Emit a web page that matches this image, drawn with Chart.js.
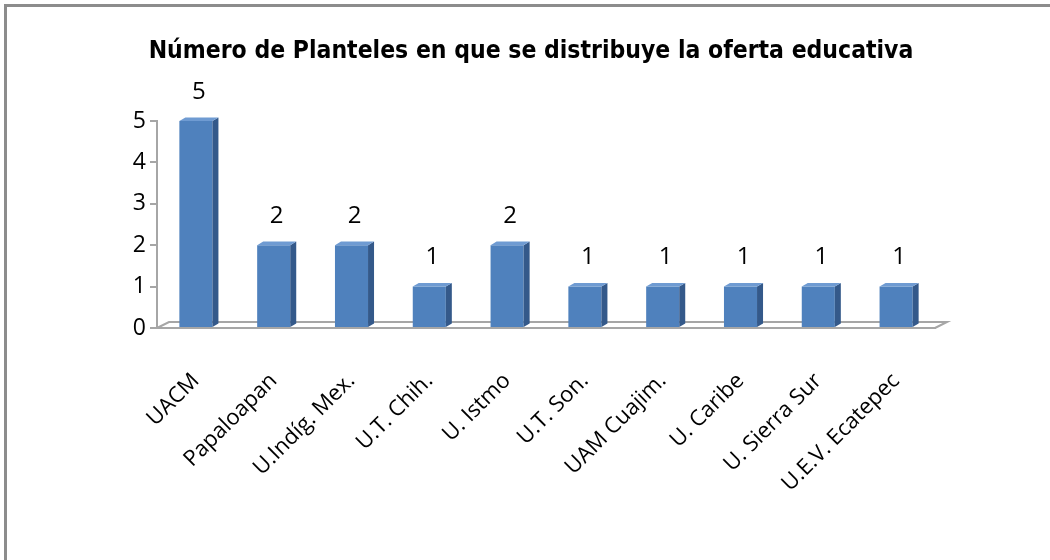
<!DOCTYPE html>
<html>
<head>
<meta charset="utf-8">
<script src="https://cdn.jsdelivr.net/npm/chart.js@4.4.0/dist/chart.umd.min.js"></script>
<style>
    html, body { margin: 0; padding: 0; background: #fff; }
    #marco { position: absolute; left: 0; top: 0; width: 1050px; height: 560px; }
    #borde { position: absolute; left: 4px; top: 4px; width: 1060px; height: 570px; border-left: 3px solid #8c8c8c; border-top: 3px solid #8c8c8c; }
</style>
</head>
<body>
<div id="marco">
    <div id="borde"></div>
    <canvas id="barras3d" width="1050" height="560"></canvas>
</div>
<script>
// Datos del gráfico
const titulo = 'Número de Planteles en que se distribuye la oferta educativa';
const universidades = ['UACM', 'Papaloapan', 'U.Indíg. Mex.', 'U.T. Chih.', 'U. Istmo', 'U.T. Son.', 'UAM Cuajim.', 'U. Caribe', 'U. Sierra Sur', 'U.E.V. Ecatepec'];
const planteles = [5, 2, 2, 1, 2, 1, 1, 1, 1, 1];
const marcasY = [0, 1, 2, 3, 4, 5];

const fuente = "'Liberation Sans Narrow', 'DejaVu Sans Condensed', sans-serif";
const fuenteTexto = "'Open Sans', 'Noto Sans', sans-serif";

document.addEventListener('DOMContentLoaded', () => {
    const prof = 6; // profundidad del efecto 3D

    // Plugin para el título, caras laterales, piso y etiquetas de valores
    const efecto3d = {
        id: 'efecto3d',
        beforeDatasetsDraw(chart) {
            const ctx = chart.ctx;
            const area = chart.chartArea;
            ctx.save();
            // título
            ctx.fillStyle = '#000';
            ctx.font = 'bold 24.5px ' + fuente;
            ctx.textAlign = 'center';
            ctx.textBaseline = 'middle';
            ctx.fillText(titulo, 531, 52);
            // piso
            ctx.strokeStyle = '#a6a6a6';
            ctx.lineWidth = 2;
            ctx.beginPath();
            ctx.moveTo(area.left, area.bottom);
            ctx.lineTo(area.left + prof * 2, area.bottom - prof);
            ctx.lineTo(area.right + prof * 2, area.bottom - prof);
            ctx.lineTo(area.right, area.bottom);
            ctx.stroke();
            ctx.restore();
        },
        afterDatasetsDraw(chart) {
            const ctx = chart.ctx;
            const meta = chart.getDatasetMeta(0);
            ctx.save();
            meta.data.forEach((bar, i) => {
                const izq = bar.x - bar.width / 2;
                const der = bar.x + bar.width / 2;
                // cara lateral
                ctx.fillStyle = '#34598a';
                ctx.beginPath();
                ctx.moveTo(der, bar.y);
                ctx.lineTo(der + prof, bar.y - prof * 0.6);
                ctx.lineTo(der + prof, bar.base - prof * 0.6);
                ctx.lineTo(der, bar.base);
                ctx.closePath();
                ctx.fill();
                // cara superior
                ctx.fillStyle = '#6f9bd2';
                ctx.beginPath();
                ctx.moveTo(izq, bar.y);
                ctx.lineTo(izq + prof, bar.y - prof * 0.6);
                ctx.lineTo(der + prof, bar.y - prof * 0.6);
                ctx.lineTo(der, bar.y);
                ctx.closePath();
                ctx.fill();
                // valor
                ctx.fillStyle = '#000';
                ctx.font = '24px ' + fuenteTexto;
                ctx.textAlign = 'center';
                ctx.textBaseline = 'bottom';
                ctx.fillText(planteles[i], bar.x + 3, bar.y - 17);
            });
            ctx.restore();
        }
    };

    new Chart(document.getElementById('barras3d'), {
        type: 'bar',
        data: {
            labels: universidades,
            datasets: [{
                label: 'Planteles',
                data: planteles,
                backgroundColor: '#4f81bd',
                borderWidth: 0,
                barPercentage: 0.85,
                categoryPercentage: 0.5
            }]
        },
        options: {
            responsive: false,
            animation: false,
            layout: { padding: { left: 0, right: 115, top: 121, bottom: 0 } },
            plugins: {
                legend: { display: false },
                tooltip: { enabled: false },
                title: { display: false }
            },
            scales: {
                x: {
                    grid: { display: false, drawTicks: false },
                    border: { color: '#a6a6a6', width: 2 },
                    ticks: {
                        color: '#000',
                        font: { family: fuenteTexto, size: 22 },
                        maxRotation: 45,
                        minRotation: 45,
                        padding: 40
                    },
                    afterFit(scale) { scale.height = 232; }
                },
                y: {
                    min: 0,
                    max: 5,
                    afterBuildTicks(scale) { scale.ticks = marcasY.map(v => ({ value: v })); },
                    grid: { display: true, drawOnChartArea: false, color: '#a6a6a6', lineWidth: 2, tickLength: 7 },
                    border: { color: '#a6a6a6', width: 2 },
                    ticks: {
                        color: '#000',
                        font: { family: fuenteTexto, size: 23 },
                        padding: 4
                    },
                    afterFit(scale) { scale.width = 157; }
                }
            }
        },
        plugins: [efecto3d]
    });
});
</script>
</body>
</html>
